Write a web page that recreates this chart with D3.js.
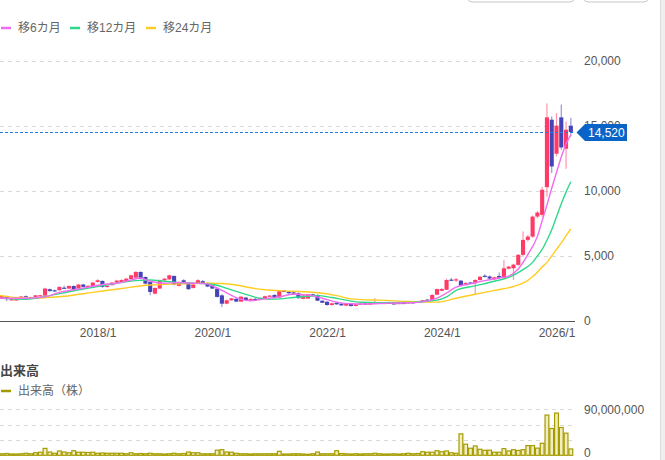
<!DOCTYPE html>
<html><head><meta charset="utf-8">
<script src="https://cdn.jsdelivr.net/npm/d3@7"></script>
<style>
html,body{margin:0;padding:0;background:#fff;}
svg{display:block;font-family:"Liberation Sans","Noto Sans CJK JP",sans-serif;}
</style></head>
<body><svg id="c" width="665" height="460"></svg>
<script>
// ---- data (monthly, 2016/4 .. 2026/4) ----
const startYear = 2016, startMonth = 4, monthCount = 121;
const opens = [
 1850,1780,1900,1640,1620,1680,1900,1810,1850,
 1900,1950,2440,2360,2360,2560,2490,2690,2490,2800,2620,2690,
 3000,3080,2650,2750,2950,3000,3050,3230,3330,3770,3380,3000,
 2100,2490,3130,3200,3460,2700,3130,2950,2540,2870,3060,2850,
 2750,2490,1970,1330,1590,1700,1490,1800,1620,1700,1630,1750,
 1880,2000,1800,2330,2250,2200,2130,1700,1720,2050,2000,1560,
 1480,1230,1400,1330,1180,1350,1150,1290,1360,1260,1400,1430,
 1330,1400,1360,1320,1390,1370,1440,1400,1520,1640,1600,2020,
 2320,2400,3180,3150,3100,2850,2960,2900,3150,3480,3420,3200,
 3460,3280,4020,4050,4310,5080,6230,6480,8020,8150,10280,15460,
 12850,15640,13230,15000];
const highs = [
 1950,1980,1930,1720,1700,1920,1950,1870,2010,
 2010,2560,2500,2420,2660,2700,2720,2730,2840,2860,2760,2990,
 3200,3120,2760,2990,3160,3200,3300,3560,3820,3800,3420,3050,
 2580,3180,3300,3560,3500,3050,3200,3000,2850,3200,3150,2950,
 2800,2550,2050,1650,1780,1760,1900,1850,1720,1740,1800,1940,
 2000,2050,2380,2380,2300,2250,2180,2000,2080,2100,2050,1600,
 1520,1400,1440,1360,1360,1400,1320,1380,1380,1400,1740,1480,
 1420,1450,1420,1400,1460,1480,1500,1560,1620,1700,2050,2500,
 2520,3250,3300,3300,3150,3000,3000,3200,3450,3600,3500,3400,
 3720,4690,4220,4400,5150,6870,6600,8100,8450,10300,16700,15700,
 15970,16620,15330,15620];
const lows = [
 1760,1750,1540,1580,1590,1660,1830,1720,1820,
 1870,1930,2250,2250,2330,2480,2470,2320,2460,2600,2590,2660,
 2950,2550,2580,2720,2850,2960,3020,3200,3300,3200,2800,1980,
 2050,2450,3050,3150,2750,2650,2950,2400,2500,2850,2850,2600,
 2450,1800,1080,1280,1550,1460,1450,1580,1590,1600,1600,1720,
 1850,1720,1780,2200,2100,2060,1720,1680,1700,1950,1530,1380,
 1180,1200,1250,1180,1150,1120,1130,1250,1240,1240,1350,1300,
 1300,1330,1280,1300,1350,1350,1380,1380,1480,1520,1580,1980,
 2280,2380,3050,3000,2650,2800,2850,2000,3100,3350,3200,3150,
 3250,3250,3950,3150,4250,5000,6100,6400,7900,8000,9560,11360,
 12640,13150,11690,14180];
const closes = [
 1800,1920,1680,1670,1660,1880,1850,1780,1970,
 1980,2490,2300,2300,2615,2530,2690,2360,2800,2620,2700,2950,
 3130,2620,2700,2950,3100,3150,3250,3510,3770,3250,2870,2230,
 2540,3130,3250,3510,2800,3000,3000,2440,2800,3130,2900,2650,
 2490,1850,1330,1590,1740,1490,1870,1615,1700,1630,1760,1900,
 1950,1760,2300,2240,2130,2100,1750,1960,2050,1980,1560,1400,
 1230,1360,1280,1200,1340,1150,1290,1340,1260,1380,1430,1330,
 1390,1360,1320,1380,1370,1440,1400,1520,1600,1560,2000,2450,
 2460,3150,3150,3200,2700,2920,2880,3150,3400,3440,3260,3360,
 3300,4050,4180,4330,5080,6230,6480,8020,8330,10080,15640,11870,
 15000,13330,14690,14520];
// volume in millions of shares
const volumes = [
 3,3,3.5,2.5,2.5,3,4,3,5,
 6,13.5,6.4,4,8.4,6.4,5,9,6,6,5.5,6,
 4,4.5,4,4,4,4,3,5,3,3.5,3,4,
 3,3,2.5,3,4,3,3.5,6.4,5,5,3,3,
 3,10,11,6.4,6,4,3,3,2.5,3,3,3,
 3,3,7.7,2.5,2.5,3,3,2.5,2,3,6.4,3,
 3,3,9,3.5,3,2.5,3,2.5,3,3,4,3,
 2.5,2.5,3,2.5,3,4,3,3.5,7,6,6,9,
 7,8.5,5,4,42,21.7,13.8,18.3,11.8,9.8,10,6,
 6,13,8.5,11,9.5,11,19,19,14,23.6,78.7,52.5,
 82.6,54.4,43.3,12.4];
// moving averages: [month label, value]
const ma6Months = ["2016/4","2016/10","2017/2","2017/5","2017/8","2017/11","2018/2","2018/5","2018/8","2018/10","2018/12","2019/3","2019/6","2019/9","2019/12","2020/1","2020/3","2020/6","2020/9","2020/12","2021/3","2021/6","2021/9","2021/12","2022/3","2022/6","2022/9","2022/12","2023/3","2023/6","2023/9","2023/12","2024/2","2024/4","2024/7","2024/10","2025/1","2025/3","2025/5","2025/7","2025/9","2025/10","2025/11","2025/12","2026/1","2026/2","2026/3","2026/4"];
const ma6Values = [1745,1745,1850,2200,2400,2600,2800,2900,3150,3300,3050,2900,2950,2900,2850,2700,2350,1800,1550,1700,1850,2050,1990,1750,1450,1320,1300,1340,1380,1400,1470,1750,2150,2600,2850,3100,3300,3450,4000,5100,6500,7700,8900,10200,11400,12600,13600,14300];
const ma12Months = ["2016/4","2016/10","2017/3","2017/7","2017/12","2018/5","2018/9","2018/12","2019/3","2019/6","2019/9","2019/12","2020/2","2020/4","2020/8","2020/11","2021/2","2021/6","2021/9","2021/11","2022/2","2022/5","2022/8","2022/12","2023/6","2023/9","2023/12","2024/2","2024/4","2024/8","2024/12","2025/3","2025/6","2025/8","2025/9","2025/10","2025/11","2025/12","2026/1","2026/2","2026/3","2026/4"];
const ma12Values = [1745,1670,1950,2250,2590,2900,3100,3150,3050,2950,2900,2850,2750,2500,2050,1745,1680,1800,1900,1950,1800,1600,1440,1410,1420,1500,1600,1850,2350,2700,3050,3350,3950,4500,5000,5500,6200,7000,8000,9000,9900,10700];
const ma24Months = ["2016/4","2016/8","2016/12","2017/6","2017/12","2018/6","2018/12","2019/6","2019/12","2020/3","2020/6","2020/9","2020/12","2021/4","2021/8","2021/12","2022/3","2022/6","2022/9","2022/12","2023/6","2023/12","2024/4","2024/8","2024/12","2025/4","2025/6","2025/8","2025/9","2025/10","2025/11","2025/12","2026/1","2026/2","2026/3","2026/4"];
const ma24Values = [2000,1800,1760,1900,2200,2500,2770,2850,2900,2880,2770,2550,2400,2310,2250,2130,1950,1700,1620,1600,1500,1450,1750,2050,2350,2650,2900,3400,3750,4150,4500,5000,5500,6000,6550,7080];
const xTickLabels = ["2018/1","2020/1","2022/1","2024/1","2026/1"];
const priceTicks = [0,5000,10000,15000,20000];
const volumeGridTicks = [30,60,90];
const volumeLabelTicks = [0,90];
const lastPrice = 14520;
const legendNames = ["移6カ月","移12カ月","移24カ月"];
const legendColors = ["#f06cf0","#2fd88a","#ffcc22"];

// ---- helpers ----
const idxOf = s => { const [y,m] = s.split("/").map(Number); return (y-startYear)*12 + (m-startMonth); };
const monthIdx = d3.range(monthCount);
const svg = d3.select("#c");
const plotRight = 575;

const x = d3.scaleLinear().domain([0, monthCount-1]).range([-2.76, 570.84]);
const y = d3.scaleLinear().domain([0, 20000]).range([321, 60.6]);
const yv = d3.scaleLinear().domain([0, 90]).range([455.3, 409.3]);

// background bits: top-right buttons, right strip
svg.append("rect").attr("x",468).attr("y",-20).attr("width",106).attr("height",22).attr("rx",4)
  .attr("fill","#fff").attr("stroke","#c8c8c8");
svg.append("rect").attr("x",584).attr("y",-20).attr("width",64).attr("height",22).attr("rx",4)
  .attr("fill","#fff").attr("stroke","#c8c8c8");
svg.append("rect").attr("x",660).attr("y",0).attr("width",5).attr("height",460).attr("fill","#efefef");
svg.append("line").attr("x1",660.5).attr("x2",660.5).attr("y1",0).attr("y2",460).attr("stroke","#dcdcdc");

// clip
const defs = svg.append("defs");
defs.append("clipPath").attr("id","clipP").append("rect").attr("x",0).attr("y",40).attr("width",plotRight).attr("height",290);
defs.append("clipPath").attr("id","clipV").append("rect").attr("x",0).attr("y",400).attr("width",plotRight).attr("height",60);

// legend
const lg = svg.append("g");
const legX = [1, 70, 146], legT = [18, 87, 163];
legendNames.forEach((n,i) => {
  lg.append("line").attr("x1",legX[i]).attr("x2",legX[i]+10).attr("y1",28).attr("y2",28)
    .attr("stroke",legendColors[i]).attr("stroke-width",2.5);
  lg.append("text").attr("x",legT[i]).attr("y",28).attr("dy","0.35em").attr("font-size",12)
    .attr("fill","#666").text(n);
});

// price grid
svg.append("g").selectAll("line").data(priceTicks.filter(d=>d>0)).join("line")
  .attr("x1",0).attr("x2",plotRight).attr("y1",d=>Math.round(y(d))+0.5).attr("y2",d=>Math.round(y(d))+0.5)
  .attr("stroke","#d9d9d9").attr("stroke-dasharray","4,4");

// right axis (15,000 is covered by the price tag, as in the original)
const ra = svg.append("g").attr("transform",`translate(${plotRight},0)`)
  .call(d3.axisRight(y).tickValues(priceTicks.filter(d=>d!==15000)).tickSize(0).tickPadding(9).tickFormat(d3.format(",")));
ra.select(".domain").remove();
ra.selectAll("text").attr("font-size",12).attr("fill","#555").attr("font-family","Liberation Sans, sans-serif");

// x axis
const xa = svg.append("g").attr("transform","translate(0,321)")
  .call(d3.axisBottom(x).tickValues(xTickLabels.map(idxOf)).tickSize(0).tickPadding(7)
    .tickFormat((d,i)=>xTickLabels[i]));
xa.select(".domain").attr("d",`M0,0.5H${plotRight}`).attr("stroke","#555").attr("stroke-width",1.2);
xa.selectAll("text").attr("font-size",12).attr("fill","#555").attr("font-family","Liberation Sans, sans-serif");

// plot
const pg = svg.append("g").attr("clip-path","url(#clipP)");
const up = "#ff3a66", down = "#4444b8";
const bw = 4.1;
const cg = pg.append("g");
cg.selectAll("line.w").data(monthIdx).join("line").attr("class","w")
  .attr("x1",i=>x(i)).attr("x2",i=>x(i)).attr("y1",i=>y(highs[i])).attr("y2",i=>y(lows[i]))
  .attr("stroke",i=>closes[i]>=opens[i]?up:down).attr("stroke-opacity",0.55).attr("stroke-width",1.2);
cg.selectAll("rect.b").data(monthIdx).join("rect").attr("class","b")
  .attr("x",i=>x(i)-bw/2).attr("width",bw)
  .attr("y",i=>y(Math.max(opens[i],closes[i])))
  .attr("height",i=>Math.max(1.2, Math.abs(y(opens[i])-y(closes[i]))))
  .attr("fill",i=>closes[i]>=opens[i]?up:down);

// moving averages
const maSets = [[ma24Months,ma24Values,legendColors[2]],[ma12Months,ma12Values,legendColors[1]],[ma6Months,ma6Values,legendColors[0]]];
maSets.forEach(([ms,vs,c]) => {
  const pts = ms.map((m,i)=>[x(idxOf(m)), y(vs[i])]);
  pg.append("path").attr("d", d3.line().curve(d3.curveMonotoneX)(pts))
    .attr("fill","none").attr("stroke",c).attr("stroke-width",1.4);
});

// last price line + tag
const ly = Math.round(y(lastPrice))+0.5;
svg.append("line").attr("x1",0).attr("x2",plotRight).attr("y1",ly).attr("y2",ly)
  .attr("stroke","#1e7fe0").attr("stroke-dasharray","3,2").attr("stroke-width",1);
svg.append("text").attr("x",584).attr("y",y(15000)).attr("dy","0.35em").attr("font-size",12)
  .attr("fill","#555").text("15,000");
svg.append("path").attr("d",`M576.5,${ly} L585,${ly-8.5} H627 V${ly+8.5} H585 Z`).attr("fill","#0a64c8");
svg.append("text").attr("x",588).attr("y",ly).attr("dy","0.36em").attr("font-size",12)
  .attr("fill","#fff").text(d3.format(",")(lastPrice));

// ---- volume section ----
svg.append("text").attr("x",0).attr("y",370).attr("dy","0.35em").attr("font-size",13).attr("font-weight","bold")
  .attr("fill","#444").text("出来高");
svg.append("line").attr("x1",1).attr("x2",11).attr("y1",391).attr("y2",391).attr("stroke","#a39a00").attr("stroke-width",2.5);
svg.append("text").attr("x",18).attr("y",391).attr("dy","0.35em").attr("font-size",12).attr("fill","#666").text("出来高（株）");

svg.append("g").selectAll("line").data(volumeGridTicks).join("line")
  .attr("x1",0).attr("x2",plotRight).attr("y1",d=>Math.round(yv(d))+0.5).attr("y2",d=>Math.round(yv(d))+0.5)
  .attr("stroke","#d9d9d9").attr("stroke-dasharray","4,4");
const va = svg.append("g").attr("transform",`translate(${plotRight},0)`)
  .call(d3.axisRight(yv).tickValues(volumeLabelTicks).tickSize(0).tickPadding(9).tickFormat(d=>d3.format(",")(d*1e6)));
va.select(".domain").remove();
va.selectAll("text").attr("font-size",12).attr("fill","#555").attr("font-family","Liberation Sans, sans-serif")
  .attr("dy",(d)=> d===0 ? "0.1em" : "0.32em");

const vg = svg.append("g").attr("clip-path","url(#clipV)");
vg.selectAll("rect").data(monthIdx).join("rect")
  .attr("x",i=>x(i)-1.9).attr("width",3.8)
  .attr("y",i=>yv(volumes[i])).attr("height",i=>yv(0)-yv(volumes[i]))
  .attr("fill","#f1edc0").attr("stroke","#a59c00").attr("stroke-width",1.2);
</script></body></html>
